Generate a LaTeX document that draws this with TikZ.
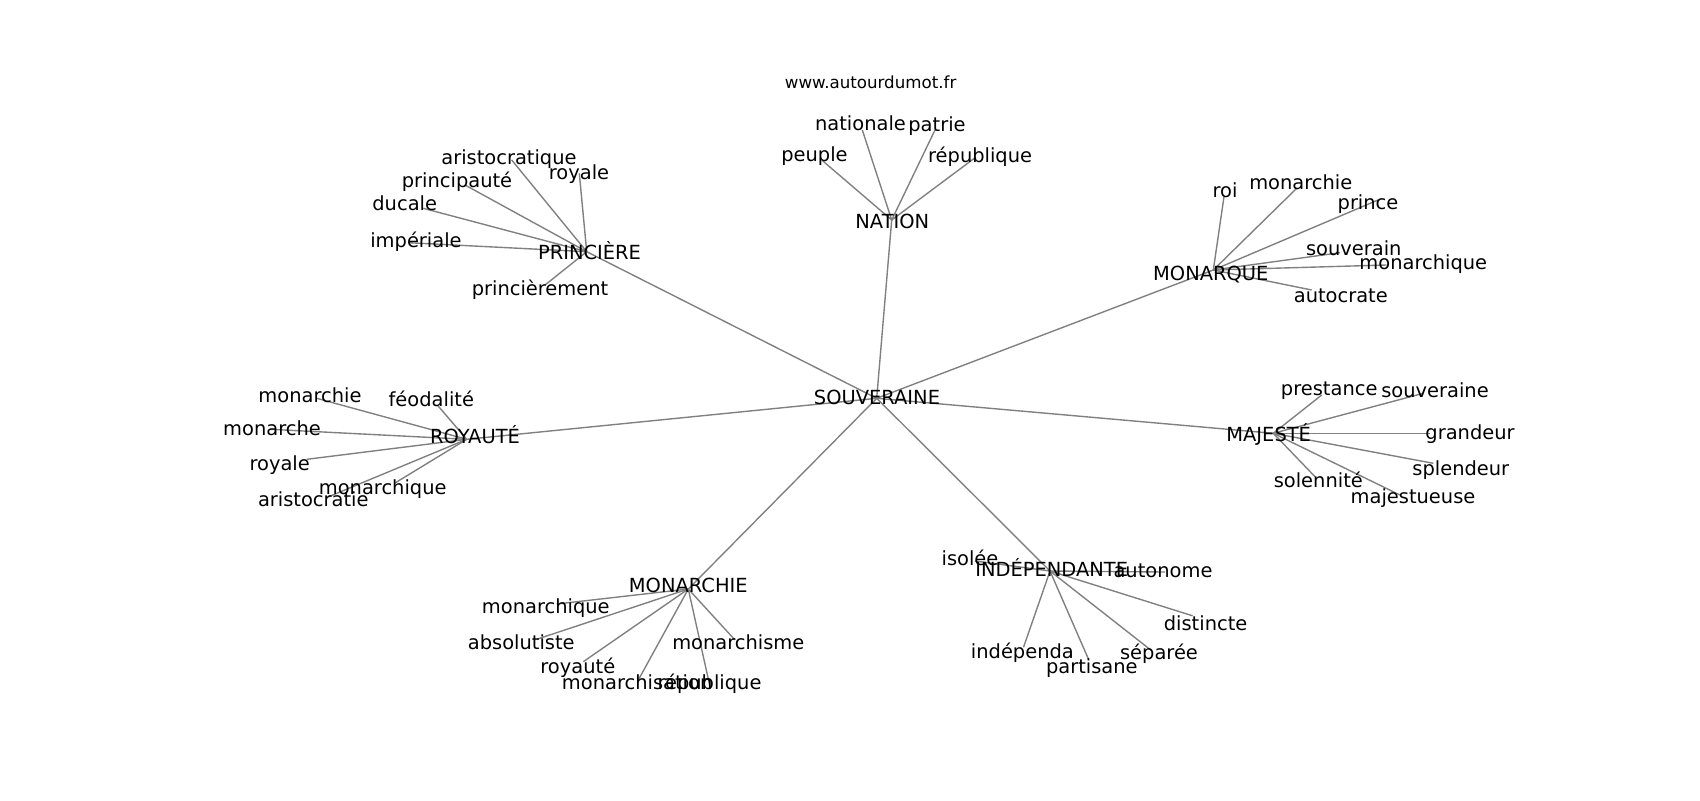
\documentclass[tikz,border=0pt]{standalone}
\usepackage{fontspec}
\setmainfont{DejaVu Sans}
\begin{document}
\begin{tikzpicture}[x=0.72pt,y=-0.72pt,
  lbl/.style={inner sep=0pt, yshift=-1.5pt, font=\fontsize{14}{16}\selectfont, text height=10.6pt, text depth=3.4pt},
  ttl/.style={inner sep=0pt, yshift=-1.5pt, font=\fontsize{12}{14}\selectfont, text height=9.1pt, text depth=2.9pt},
  edge/.style={draw=gray, line width=1pt}]
\useasboundingbox (0,0) rectangle (1700,800);
% hubs
\coordinate (S) at (876.7,398.3);
\coordinate (NA) at (891.7,220);
\coordinate (PR) at (586.7,251.7);
\coordinate (MQ) at (1213.3,270);
\coordinate (RO) at (466.7,439.3);
\coordinate (MA) at (1273.3,433.3);
\coordinate (MC) at (688.3,589);
\coordinate (IN) at (1050,571);
% NATION leaves
\coordinate (na1) at (862.3,130);
\coordinate (na2) at (935,130);
\coordinate (na3) at (821.7,160);
\coordinate (na4) at (975.8,157.2);
% PRINCIERE leaves
\coordinate (pr1) at (511.7,160);
\coordinate (pr2) at (579.3,173.3);
\coordinate (pr3) at (465,185);
\coordinate (pr4) at (423.3,208.3);
\coordinate (pr5) at (408.3,242.7);
\coordinate (pr6) at (545,285);
% MONARQUE leaves
\coordinate (mq1) at (1224,196.7);
\coordinate (mq2) at (1296.7,188.3);
\coordinate (mq3) at (1378,200);
\coordinate (mq4) at (1340,252.7);
\coordinate (mq5) at (1386.7,265);
\coordinate (mq6) at (1311.7,290);
% ROYAUTE leaves
\coordinate (ro1) at (316.7,398.3);
\coordinate (ro2) at (437.3,405);
\coordinate (ro3) at (270,429.3);
\coordinate (ro4) at (306.7,459.3);
\coordinate (ro5) at (395,483);
\coordinate (ro6) at (328,497);
% MAJESTE leaves
\coordinate (ma1) at (1321.7,395);
\coordinate (ma2) at (1423.3,393.3);
\coordinate (ma3) at (1430,433.3);
\coordinate (ma4) at (1433.3,463.3);
\coordinate (ma5) at (1315,476.7);
\coordinate (ma6) at (1400,495);
% MONARCHIE leaves
\coordinate (mc1) at (556.7,604);
\coordinate (mc2) at (536.7,639.3);
\coordinate (mc3) at (583.3,661.7);
\coordinate (mc4) at (638.3,680);
\coordinate (mc5) at (710,686.7);
\coordinate (mc6) at (735,640);
% INDEPENDANTE leaves
\coordinate (in1) at (975,561);
\coordinate (in2) at (1165,572);
\coordinate (in3) at (1192.6,615.8);
\coordinate (in4) at (1023.5,647.3);
\coordinate (in5) at (1088.5,659.2);
\coordinate (in6) at (1151.4,650.5);
% edges
\foreach \h in {NA,PR,MQ,RO,MA,MC,IN} \draw[edge] (S) -- (\h);
\foreach \l in {na1,na2,na3,na4} \draw[edge] (NA) -- (\l);
\foreach \l in {pr1,pr2,pr3,pr4,pr5,pr6} \draw[edge] (PR) -- (\l);
\foreach \l in {mq1,mq2,mq3,mq4,mq5,mq6} \draw[edge] (MQ) -- (\l);
\foreach \l in {ro1,ro2,ro3,ro4,ro5,ro6} \draw[edge] (RO) -- (\l);
\foreach \l in {ma1,ma2,ma3,ma4,ma5,ma6} \draw[edge] (MA) -- (\l);
\foreach \l in {mc1,mc2,mc3,mc4,mc5,mc6} \draw[edge] (MC) -- (\l);
\foreach \l in {in1,in2,in3,in4,in5,in6} \draw[edge] (IN) -- (\l);
% labels
\node[ttl] (title) at (870.6,82.4) {www.autourdumot.fr};
\node[lbl] (tS) at (877,397.5) {SOUVERAINE};
\node[lbl] (tNA) at (892.3,221) {NATION};
\node[lbl] (tna1) at (860.5,123.5) {nationale};
\node[lbl] (tna2) at (937,124.5) {patrie};
\node[lbl] (tna3) at (814.5,154) {peuple};
\node[lbl] (tna4) at (980.1,155) {république};
\node[lbl] (tPR) at (589.5,252) {PRINCIÈRE};
\node[lbl] (tpr1) at (509,157) {aristocratique};
\node[lbl] (tpr2) at (579,172) {royale};
\node[lbl] (tpr3) at (457,180) {principauté};
\node[lbl] (tpr4) at (404.7,203.3) {ducale};
\node[lbl] (tpr5) at (416,240) {impériale};
\node[lbl] (tpr6) at (540,288.4) {princièrement};
\node[lbl] (tMQ) at (1210.8,273) {MONARQUE};
\node[lbl] (tmq1) at (1225,190) {roi};
\node[lbl] (tmq2) at (1300.8,182.3) {monarchie};
\node[lbl] (tmq3) at (1368,202.7) {prince};
\node[lbl] (tmq4) at (1353.8,248.3) {souverain};
\node[lbl] (tmq5) at (1423.3,262.7) {monarchique};
\node[lbl] (tmq6) at (1340.8,295) {autocrate};
\node[lbl] (tRO) at (475,436.5) {ROYAUTÉ};
\node[lbl] (tro1) at (310,395) {monarchie};
\node[lbl] (tro2) at (431.3,399.3) {féodalité};
\node[lbl] (tro3) at (272,428.3) {monarche};
\node[lbl] (tro4) at (279.7,463.3) {royale};
\node[lbl] (tro5) at (382.7,487.9) {monarchique};
\node[lbl] (tro6) at (313.3,499.8) {aristocratie};
\node[lbl] (tMA) at (1268.7,434.5) {MAJESTÉ};
\node[lbl] (tma1) at (1329.2,388.3) {prestance};
\node[lbl] (tma2) at (1435,390.7) {souveraine};
\node[lbl] (tma3) at (1470,432.7) {grandeur};
\node[lbl] (tma4) at (1460.8,468.3) {splendeur};
\node[lbl] (tma5) at (1318.3,480) {solennité};
\node[lbl] (tma6) at (1413,496) {majestueuse};
\node[lbl] (tMC) at (688.3,585.5) {MONARCHIE};
\node[lbl] (tmc1) at (545.8,606) {monarchique};
\node[lbl] (tmc2) at (521.3,642.7) {absolutiste};
\node[lbl] (tmc3) at (577.8,666) {royauté};
\node[lbl] (tmc4) at (637.1,682.7) {monarchisation};
\node[lbl] (tmc5) at (709.5,682.7) {république};
\node[lbl] (tmc6) at (738.3,642.7) {monarchisme};
\node[lbl] (tIN) at (1051.7,569.5) {INDÉPENDANTE};
\node[lbl] (tin1) at (970,558.3) {isolée};
\node[lbl] (tin2) at (1163,570.3) {autonome};
\node[lbl] (tin3) at (1205.6,623.4) {distincte};
\node[lbl] (tin4) at (1022.4,651.6) {indépenda};
\node[lbl] (tin5) at (1091.8,666.8) {partisane};
\node[lbl] (tin6) at (1159,652.7) {séparée};
\end{tikzpicture}
\end{document}
